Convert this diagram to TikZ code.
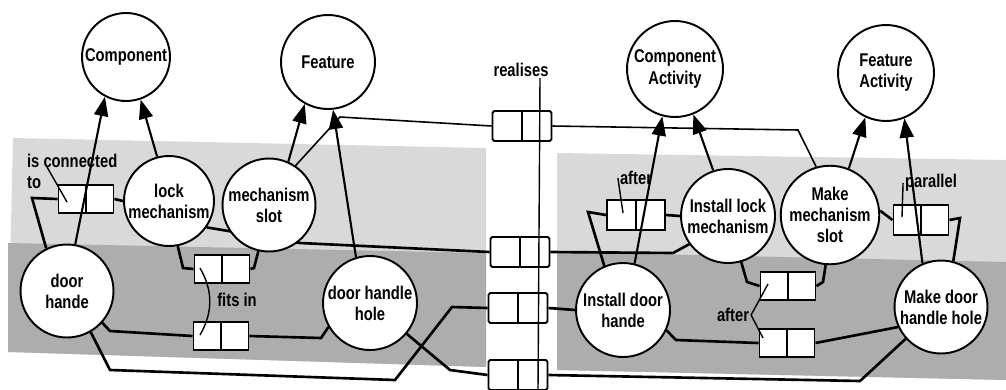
\documentclass[tikz,border=0pt]{standalone}
\usepackage{fontspec}
\setmainfont{Liberation Sans}[FakeStretch=0.8]
\usetikzlibrary{arrows.meta}
\pgfdeclarelayer{shade}
\pgfdeclarelayer{links}
\pgfsetlayers{shade,links,main}

\newcommand{\diafont}{\fontsize{10.5}{12}\selectfont\bfseries}

\tikzset{
  thing/.style={circle, draw, line width=1.1pt, fill=white, inner sep=0pt,
    minimum size=1.86cm, align=center, font=\diafont},
  relbox/.style={draw, line width=1.1pt, fill=white, inner sep=0pt,
    minimum width=1.1cm, minimum height=0.56cm,
    path picture={\draw[line width=1.1pt] (path picture bounding box.north)
      -- (path picture bounding box.south);}},
  realbox/.style={relbox, minimum width=1.18cm, minimum height=0.6cm, rounded corners=1pt},
  rlabel/.style={font=\diafont, inner sep=1pt},
  link/.style={line width=1.5pt},
  isa/.style={line width=1.2pt, -{Triangle[length=11pt,width=8pt]}},
  pointer/.style={line width=0.8pt},
}

\begin{document}
\begin{tikzpicture}[x=0.02cm, y=-0.02cm]
\useasboundingbox (0,0) rectangle (1006,389);
% types
\node[thing, minimum size=1.76cm] (comp) at (126,57) {Component};
\node[thing, minimum size=1.88cm] (feat) at (328,62) {Feature};
\node[thing, minimum size=1.92cm] (cact) at (675,69) {Component\\Activity};
\node[thing, minimum size=1.92cm] (fact) at (886,73) {Feature\\Activity};
% product
\node[thing, minimum size=1.8cm] (lock) at (169,201) {lock\\mechanism};
\node[thing] (slot) at (269,205) {mechanism\\slot};
\node[thing] (dh) at (67,291) {door\\hande};
\node[thing, minimum size=1.88cm] (dhh) at (370,303) {door handle\\hole};
% process
\node[thing, minimum size=1.88cm] (idh) at (623,310) {Install door\\hande};
\node[thing, minimum size=1.88cm] (ilm) at (728,216) {Install lock\\mechanism};
\node[thing, minimum size=1.92cm] (mms) at (830,215) {Make\\mechanism\\slot};
\node[thing] (mdhh) at (941,307) {Make door\\handle hole};
% relation boxes
\node[relbox] (conn) at (86,199) {};
\node[relbox] (fit1) at (222,269) {};
\node[relbox] (fit2) at (221,336) {};
\node[realbox] (real1) at (522,126) {};
\node[realbox] (real2) at (520,252) {};
\node[realbox] (real3) at (518,308) {};
\node[realbox] (real4) at (518,375) {};
\node[relbox, minimum width=1.16cm, minimum height=0.6cm] (aft1) at (636,215) {};
\node[relbox] (aft2) at (788,286) {};
\node[relbox] (aft3) at (787,343) {};
\node[relbox, minimum height=0.6cm] (par) at (921,220) {};
% relation names
\node[rlabel, anchor=west, align=left] (connlab) at (25,171) {is connected\\to};
\node[rlabel] (fitlab) at (237,300) {fits in};
\node[rlabel] (reallab) at (521,70) {realises};
\node[rlabel] (aftlab1) at (636,178) {after};
\node[rlabel] (aftlab2) at (733,315) {after};
\node[rlabel] (parlab) at (931,183) {parallel};
\coordinate (connpt) at (47,167);
\coordinate (realtop) at (540,78);
\coordinate (realbot) at (538,389);

\begin{pgfonlayer}{shade}
\fill[black!15] (13,138) -- (486,148) -- (486,367) -- (8,352) -- cycle;
\fill[black!32] (8,243) -- (486,253) -- (486,367) -- (8,352) -- cycle;
\fill[black!15] (557,153) -- (1006,160) -- (1006,380) -- (557,370) -- cycle;
\fill[black!32] (557,252) -- (1006,262) -- (1006,380) -- (557,370) -- cycle;
\end{pgfonlayer}

\begin{pgfonlayer}{links}
% is connected to
\draw[link] (dh.116) -- (32,198) -- (conn.west);
\draw[link] (conn.east) -- (lock.180);
% fits in
\draw[link] (lock.281) -- (183,268) -- (fit1.west);
\draw[link] (fit1.east) -- (254,268) -- (slot.257);
\draw[link] (dh.318) -- (110,331) -- (fit2.west);
\draw[link] (fit2.east) -- (321,338) -- (dhh.210);
% realises
\draw[line width=0.9pt] (slot.56) -- (340,117) -- (real1.west);
\draw[line width=0.9pt] (real1.east) -- (798,130) -- (mms.106);
\draw[link] (lock.325) -- (300,243) -- (real2.west);
\draw[link] (real2.east) -- (673,253) -- (ilm.216);
\draw[link] (dh.300) -- (110,370) -- (395,380) -- (452,307) -- (real3.west);
\draw[link] (real3.east) -- (idh.west);
\draw[link] (dhh.320) -- (450,370) -- (real4.west);
\draw[link] (real4.east) -- (860,381) -- (mdhh.222);
% after, parallel
\draw[link] (idh.113) -- (588,212) -- (aft1.west);
\draw[link] (aft1.east) -- (ilm.west);
\draw[link] (ilm.286) -- (747,282) -- (aft2.west);
\draw[link] (aft2.east) -- (823,282) -- (mms.265);
\draw[link] (idh.335) -- (676,340) -- (aft3.west);
\draw[link] (aft3.east) -- (mdhh.205);
\draw[link] (mms.5) -- (par.west);
\draw[link] (par.east) -- (960,218) -- (mdhh.75);
\end{pgfonlayer}

% instance of
\draw[isa] (dh.80) -- (comp.242);
\draw[isa] (lock.105) -- (comp.289);
\draw[isa] (slot.66) -- (feat.241);
\draw[isa] (dhh.107) -- (feat.276);
\draw[isa] (idh.76) -- (cact.255);
\draw[isa] (ilm.108) -- (cact.292);
\draw[isa] (mms.68) -- (fact.245);
\draw[isa] (mdhh.113) -- (fact.292);

% pointers from relation names
\draw[line width=0.8pt] (realtop) -- (realbot);
\draw[pointer] (connpt) -- ([shift={(-19,3)}]conn.center);
\draw[pointer] ([shift={(-22,-1)}]fit1.center) to[bend left=30] ([shift={(-21,-1)}]fit2.center);
\draw[pointer] (aftlab1.west) -- ([shift={(-13,-2)}]aft1.center);
\draw[pointer] ([shift={(-20,-2)}]aft2.center) -- (aftlab2.east) -- ([shift={(-24,-5)}]aft3.center);
\draw[pointer] (parlab.west) -- ([shift={(-19,-3)}]par.center);
\end{tikzpicture}
\end{document}
